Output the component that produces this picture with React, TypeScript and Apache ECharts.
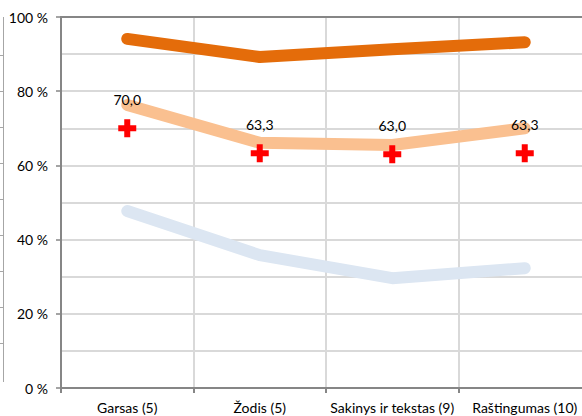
import React, { useEffect, useRef } from "react";
import * as echarts from "echarts";

const categories = ["Garsas (5)", "Žodis (5)", "Sakinys ir tekstas (9)", "Raštingumas (10)"];
const darkOrangeValues = [94.1, 89.2, 91.3, 93.2];
const lightOrangeValues = [76.3, 66.1, 65.5, 70.0];
const lightBlueValues = [47.7, 35.8, 29.6, 32.3];
const plusValues = [70.0, 63.3, 63.0, 63.3];
const yTicks = [0, 20, 40, 60, 80, 100];

const FONT = "Lato";
const FS = 14;

export default function App() {
  const ref = useRef<HTMLDivElement>(null);
  useEffect(() => {
    if (!ref.current) return;
    const chart = echarts.init(ref.current, undefined, { renderer: "svg" });
    const leftTicks = [55, 91, 127, 163, 199, 235, 271, 307, 343];
    const graphics: any[] = [
      { type: "line", shape: { x1: 3.5, y1: 17, x2: 3.5, y2: 382 }, style: { stroke: "#a6a6a6", lineWidth: 1 } },
      ...leftTicks.map((y) => ({
        type: "line",
        shape: { x1: 0, y1: y + 0.5, x2: 3.5, y2: y + 0.5 },
        style: { stroke: "#a6a6a6", lineWidth: 1 },
      })),
    ];
    const lineSeries = (data: number[], color: string) => ({
      type: "line",
      data,
      symbol: "none",
      lineStyle: { color, width: 12, cap: "round", join: "round" },
      itemStyle: { color },
      z: 2,
    });
    chart.setOption({
      animation: false,
      grid: { left: 61, top: 17, width: 530, height: 371, outerBoundsMode: "none", containLabel: false },
      graphic: graphics,
      xAxis: [
        {
          type: "category",
          data: categories,
          boundaryGap: true,
          axisLine: { lineStyle: { color: "#868686", width: 2 } },
          axisTick: { show: true, length: 5, lineStyle: { color: "#868686", width: 2 } },
          axisLabel: { interval: 0, margin: 12, fontFamily: FONT, fontSize: FS, color: "#000" },
          splitLine: { show: true, lineStyle: { color: "#d9d9d9", width: 2 } },
        },
        {
          type: "category",
          data: categories,
          position: "top",
          axisLine: { show: true, lineStyle: { color: "#868686", width: 2 } },
          axisTick: { show: false },
          axisLabel: { show: false },
          splitLine: { show: false },
        },
      ],
      yAxis: {
        type: "value",
        min: yTicks[0],
        max: yTicks[yTicks.length - 1],
        interval: 20,
        axisLine: { show: true, lineStyle: { color: "#868686", width: 2 } },
        axisTick: { show: true, length: 5, lineStyle: { color: "#868686", width: 1.5 } },
        axisLabel: { margin: 13, fontFamily: FONT, fontSize: FS, color: "#000", formatter: (v: number) => `${v} %` },
        splitLine: { show: true, lineStyle: { color: "#d9d9d9", width: 2 } },
        minorTick: { show: false, splitNumber: 2 },
        minorSplitLine: { show: true, lineStyle: { color: "#d9d9d9", width: 2 } },
      },
      series: [
        lineSeries(darkOrangeValues, "#e46c0a"),
        lineSeries(lightOrangeValues, "#fac090"),
        lineSeries(lightBlueValues, "#dce6f2"),
        {
          type: "line",
          data: plusValues,
          symbol: "path://M6,0H12V6H18V12H12V18H6V12H0V6H6Z",
          symbolSize: 18,
          showSymbol: true,
          lineStyle: { width: 0, opacity: 0 },
          itemStyle: { color: "#ff0000" },
          label: {
            show: true,
            position: "top",
            distance: 13,
            fontFamily: FONT,
            fontSize: FS,
            color: "#000",
            formatter: (p: any) => Number(p.value).toFixed(1).replace(".", ","),
          },
          z: 5,
        },
      ],
    });
    return () => chart.dispose();
  }, []);
  return (
    <div
      ref={ref}
      style={{ position: "absolute", left: 0, top: 0, width: 582, height: 416, background: "#fff" }}
    />
  );
}
